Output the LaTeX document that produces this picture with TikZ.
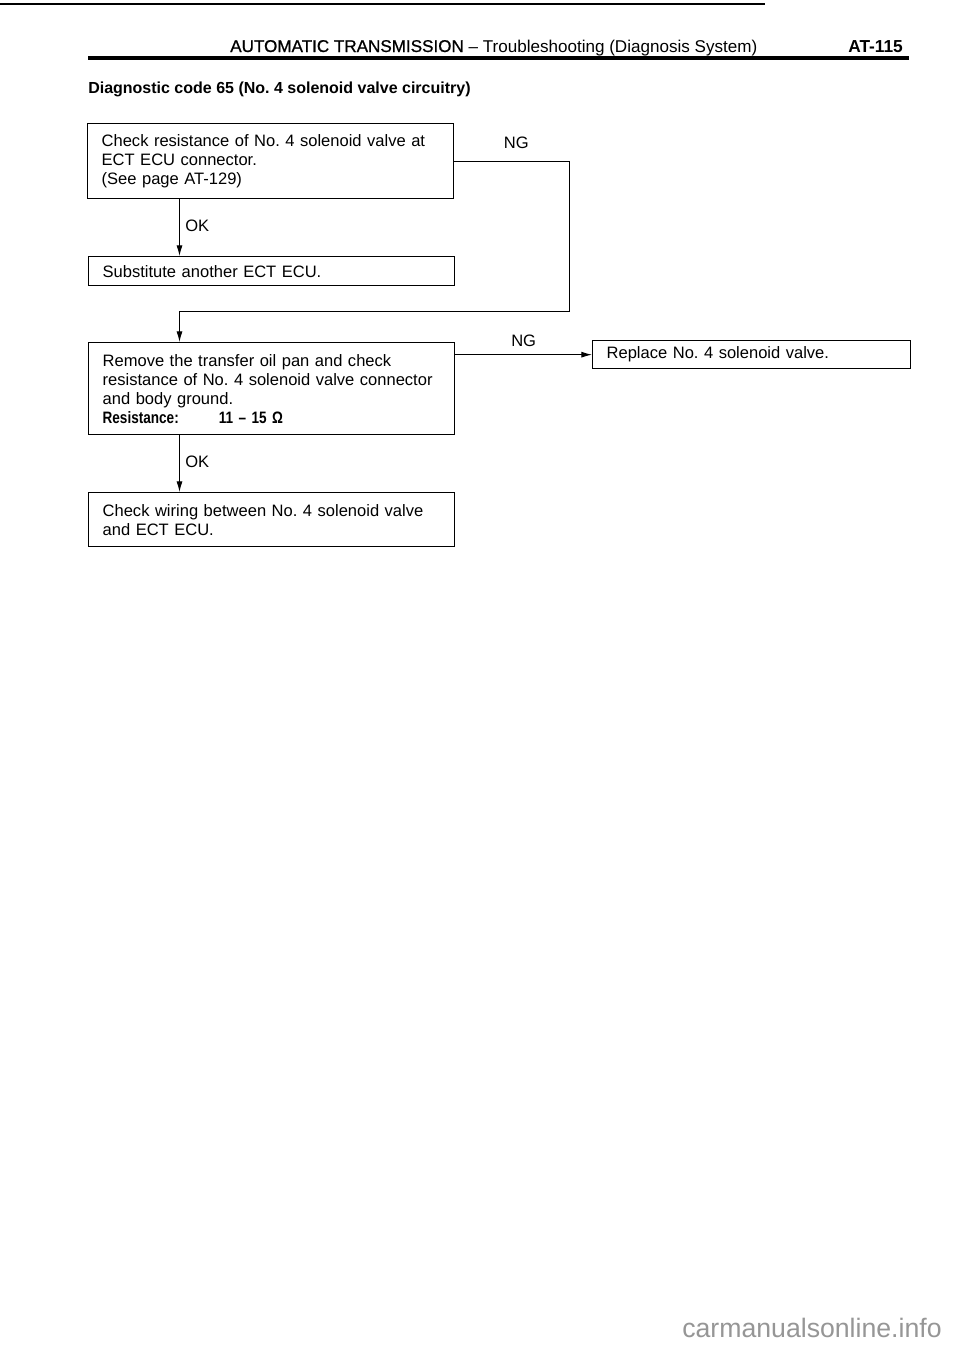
\documentclass[tikz,border=0pt]{standalone}
\usepackage{fontspec}
\setmainfont{Liberation Sans}
\newfontfamily\medfont{Liberation Sans}[FakeBold=0.8]
\usetikzlibrary{arrows.meta}
\definecolor{markgray}{RGB}{150,150,150}
\frenchspacing

\begin{document}
\begin{tikzpicture}[x=0.75pt, y=-0.75pt,
    box/.style={draw, line width=1pt, anchor=north west, align=left,
      inner xsep=10.5pt, inner ysep=0pt, minimum width=274.5pt,
      text width=253.5pt, font=\fontsize{12.4}{14.25}\selectfont},
    lbl/.style={font=\fontsize{12.4}{14.25}\selectfont, inner sep=3pt},
    arr/.style={line width=0.7pt, -{Latex[length=8pt,width=4.5pt]}}]
  \useasboundingbox (0,0) rectangle (960,1356);
  \fill[white] (0,0) rectangle (960,1356);
  % page head
  \draw[line width=1.5pt] (0,4) -- (765,4);
  \draw[line width=2.6pt] (88,58) -- (909,58);
  \node[anchor=base west, inner sep=0pt, font=\fontsize{12.8}{15}\selectfont] (head) at (230,52)
    {{\medfont AUTOMATIC TRANSMISSION} – Troubleshooting (Diagnosis System)};
  \node[anchor=base west, inner sep=0pt, font=\bfseries\fontsize{13}{15}\selectfont] (page) at (848,52) {AT-115};
  \node[anchor=base west, inner sep=0pt, font=\bfseries\fontsize{12}{14}\selectfont] (title) at (88,93)
    {Diagnostic code 65 (No. 4 solenoid valve circuitry)};
  % steps
  \node[box, minimum height=56.25pt] (check) at (87,123)
    {Check resistance of No. 4 solenoid valve at\\ECT ECU connector.\\(See page AT-129)};
  \node[box, minimum height=21.75pt] (subst) at (88,256) {Substitute another ECT ECU.};
  \node[box, minimum height=69pt] (remove) at (88,342)
    {Remove the transfer oil pan and check\\resistance of No. 4 solenoid valve connector\\and body ground.\\
     {\bfseries\addfontfeature{FakeStretch=0.82}Resistance:\hspace{30pt}11 – 15 Ω}};
  \node[box, minimum width=238.5pt, text width=217.5pt, minimum height=21pt] (replace) at (592,340)
    {Replace No. 4 solenoid valve.};
  \node[box, minimum height=40.5pt] (wiring) at (88,492)
    {Check wiring between No. 4 solenoid valve\\and ECT ECU.};
  % connectors
  \coordinate (col) at (179.5,0);
  \coordinate (loop) at (569,311);
  \draw[arr] (check.south -| col) -- (subst.north -| col) node[lbl, pos=0.47, right=1pt] {OK};
  \draw[arr] (check.east) -| node[lbl, pos=0.27, above=6pt] {NG} (loop) -| (remove.north -| col);
  \draw[arr] (remove.east |- replace.west) -- node[lbl, above=3pt] {NG} (replace.west);
  \draw[arr] (remove.south -| col) -- (wiring.north -| col) node[lbl, pos=0.47, right=1pt] {OK};
  % watermark
  \node[anchor=base west, inner sep=0pt, text=markgray, font=\fontsize{20}{24}\selectfont] (mark) at (682,1337)
    {carmanualsonline.info};
\end{tikzpicture}
\end{document}
